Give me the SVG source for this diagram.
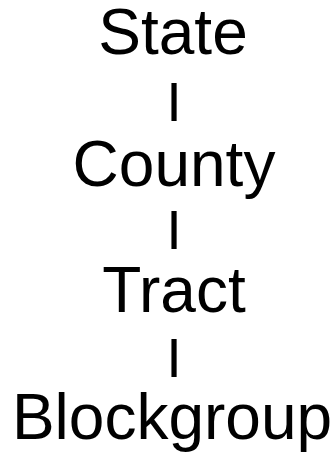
<svg xmlns="http://www.w3.org/2000/svg" width="336" height="452" viewBox="0 0 336 452">
<style>
.t{font-family:"Liberation Sans",Arial,sans-serif;font-size:64px;fill:#000;text-anchor:middle}
.b{font-family:"Liberation Sans",Arial,sans-serif;font-size:56px;fill:#000;text-anchor:middle}
</style>
<rect width="336" height="452" fill="#fff"/>
<g id="state"><text class="t" x="173" y="54">State</text></g>
<g id="connectors">
<text class="b" x="174" y="121">I</text>
<text class="b" x="174" y="249">I</text>
<text class="b" x="174" y="377">I</text>
</g>
<g id="county"><text class="t" x="174" y="186">County</text></g>
<g id="tract"><text class="t" x="174" y="312">Tract</text></g>
<g id="blockgroup"><text class="t" x="172" y="439">Blockgroup</text></g>
</svg>
